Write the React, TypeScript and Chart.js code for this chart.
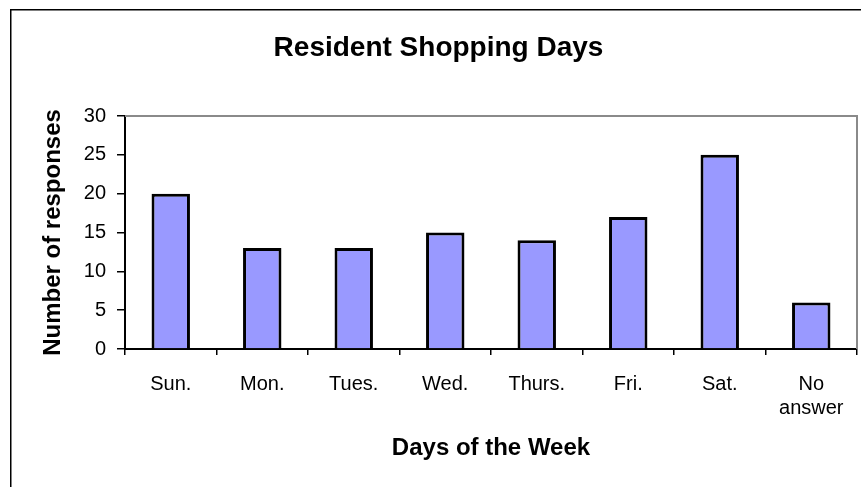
import React, { useEffect, useRef } from "react";
import { Chart, registerables } from "chart.js";

Chart.register(...registerables);

const categories: (string | string[])[] = ["Sun.", "Mon.", "Tues.", "Wed.", "Thurs.", "Fri.", "Sat.", ["No", "answer"]];
const responses: number[] = [20, 13, 13, 15, 14, 17, 25, 6];
const yTicks = { min: 0, max: 30, step: 5 };
const chartTitle = "Resident Shopping Days";
const xTitle = "Days of the Week";
const yTitle = "Number of responses";

const FONT = "'Liberation Sans', Arial, Helvetica, sans-serif";

const framePlugin = {
  id: "frame",
  afterDraw(chart: any) {
    const { ctx, chartArea } = chart;
    ctx.save();
    // plot area top & right border (grey)
    ctx.strokeStyle = "#8a8a8a";
    ctx.lineWidth = 2;
    ctx.beginPath();
    ctx.moveTo(chartArea.left, chartArea.top);
    ctx.lineTo(chartArea.right, chartArea.top);
    ctx.lineTo(chartArea.right, chartArea.bottom);
    ctx.stroke();
    // outer frame (left & top visible)
    ctx.strokeStyle = "#000";
    ctx.lineWidth = 1.5;
    ctx.beginPath();
    ctx.moveTo(10.75, chart.height + 5);
    ctx.lineTo(10.75, 9.75);
    ctx.lineTo(chart.width + 5, 9.75);
    ctx.stroke();
    ctx.restore();
  },
};

export default function App() {
  const ref = useRef<HTMLCanvasElement | null>(null);
  useEffect(() => {
    if (!ref.current) return;
    const chart = new Chart(ref.current, {
      type: "bar",
      data: {
        labels: categories,
        datasets: [
          {
            data: responses,
            backgroundColor: "#9999FF",
            borderColor: "#000000",
            borderWidth: 3,
            barPercentage: 0.42,
            categoryPercentage: 1,
          },
        ],
      },
      plugins: [framePlugin],
      options: {
        responsive: false,
        animation: false,
        devicePixelRatio: 1,
        layout: { padding: { left: 20, right: 4, top: 0, bottom: 0 } },
        plugins: {
          legend: { display: false },
          tooltip: { enabled: false },
          title: {
            display: true,
            text: chartTitle,
            color: "#000",
            font: { family: FONT, size: 28, weight: "bold" },
            padding: { top: 31.5, bottom: 50.9 },
          },
        },
        scales: {
          x: {
            afterFit: (s: any) => {
              s.height = 138;
            },
            grid: {
              display: true,
              offset: true,
              drawOnChartArea: false,
              drawTicks: true,
              tickLength: 6,
              color: "#000",
              lineWidth: 1.5,
            },
            border: { display: true, color: "#000", width: 2 },
            ticks: {
              color: "#000",
              font: { family: FONT, size: 20 },
              padding: 17,
              maxRotation: 0,
              autoSkip: false,
            },
            title: {
              display: true,
              text: xTitle,
              color: "#000",
              font: { family: FONT, size: 24, weight: "bold" },
              padding: { top: 0, bottom: 24.6 },
            },
          },
          y: {
            min: yTicks.min,
            max: yTicks.max,
            afterFit: (s: any) => {
              s.width = 105;
            },
            grid: {
              display: true,
              drawOnChartArea: false,
              drawTicks: true,
              tickLength: 8,
              color: "#000",
              lineWidth: 1.5,
            },
            border: { display: true, color: "#000", width: 2 },
            ticks: {
              stepSize: yTicks.step,
              color: "#000",
              font: { family: FONT, size: 20 },
              padding: 11,
            },
            title: {
              display: true,
              text: yTitle,
              color: "#000",
              font: { family: FONT, size: 24, weight: "bold" },
              padding: { top: 19.2, bottom: 0 },
            },
          },
        },
      },
    });
    return () => chart.destroy();
  }, []);
  return (
    <canvas
      ref={ref}
      width={861}
      height={487}
      style={{ position: "fixed", left: 0, top: 0, width: 861, height: 487, background: "#fff" }}
    />
  );
}
